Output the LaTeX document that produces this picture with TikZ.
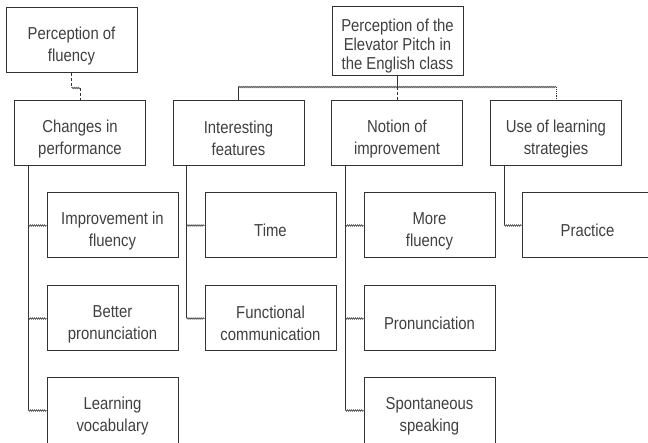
\documentclass[tikz,border=0pt]{standalone}
\usepackage{fontspec}
\setmainfont{Liberation Sans}[FakeStretch=0.86]
\usetikzlibrary{decorations.pathmorphing}

\newcommand{\lowr}{\rule{0pt}{23pt}}
\tikzset{
  box/.style={draw=black!80, line width=1pt, minimum width=131pt, minimum height=65pt,
    align=center, text=black!75, inner sep=2pt, font=\fontsize{17.3}{22}\selectfont},
  trunk/.style={draw=black!80, line width=0.9pt},
  wavy/.style={draw=black!70, line width=0.7pt, decorate,
    decoration={snake, amplitude=0.7pt, segment length=2pt}},
}

\begin{document}
\begin{tikzpicture}[x=1pt,y=-1pt]
	\useasboundingbox (0,0) rectangle (648,443);
	% top level
	\node[box] (fluency) at (71.5,40.5) {\lowr Perception of\\fluency};
	\node[box, font=\fontsize{17.3}{19}\selectfont] (pitch) at (397.5,41) {\lowr Perception of the\\Elevator Pitch in\\the English class};
	% categories
	\node[box] (changes) at (80,133.5) {\lowr Changes in\\performance};
	\node[box] (interest) at (238.5,133.5) {\lowr Interesting\\features};
	\node[box] (notion) at (397,133.5) {\lowr Notion of\\improvement};
	\node[box] (usestrat) at (556,133.5) {\lowr Use of learning\\strategies};
	% sub-categories
	\node[box] (imp) at (112.5,225.5) {\lowr Improvement in\\fluency};
	\node[box] (pron) at (112.5,318.5) {\lowr Better\\pronunciation};
	\node[box] (voc) at (112.5,410.5) {\lowr Learning\\vocabulary};
	\node[box] (time) at (270.5,225.5) {\lowr Time};
	\node[box] (func) at (270.5,318.5) {\lowr Functional\\communication};
	\node[box] (more) at (429.5,225.5) {\lowr More\\fluency};
	\node[box] (npron) at (429.5,318.5) {\lowr Pronunciation};
	\node[box] (spont) at (429.5,410.5) {\lowr Spontaneous\\speaking};
	\node[box] (practice) at (587.5,225.5) {\lowr Practice};

	% fluency -> changes
	\coordinate (fj) at (fluency.south |- 0,88);
	\draw[trunk, densely dashed] (fluency.south) -- (fj);
	\draw[wavy] (fj) -- (fj -| changes.north);
	\draw[trunk, densely dashed] (fj -| changes.north) -- (changes.north);

	% pitch -> categories
	\coordinate (hub) at (pitch.south |- 0,87);
	\draw[trunk] (pitch.south) -- (hub);
	\draw[wavy] (hub -| interest.north) -- (hub -| usestrat.north);
	\draw[trunk] (hub -| interest.north) -- (interest.north);
	\draw[trunk, densely dashed] (hub -| notion.north) -- (notion.north);
	\draw[trunk, densely dotted] (hub -| usestrat.north) -- (usestrat.north);

	% trunks down to the last child
	\foreach \p/\last in {changes/voc, interest/func, notion/spont, usestrat/practice}
		\draw[trunk] ([xshift=14pt]\p.south west) -- ([xshift=14pt]\p.south west |- \last.west);
	\foreach \p/\c in {changes/imp, changes/pron, changes/voc, interest/time, interest/func,
			notion/more, notion/npron, notion/spont, usestrat/practice}
		\draw[wavy] ([xshift=14pt]\p.south west |- \c.west) -- (\c.west);
\end{tikzpicture}
\end{document}
